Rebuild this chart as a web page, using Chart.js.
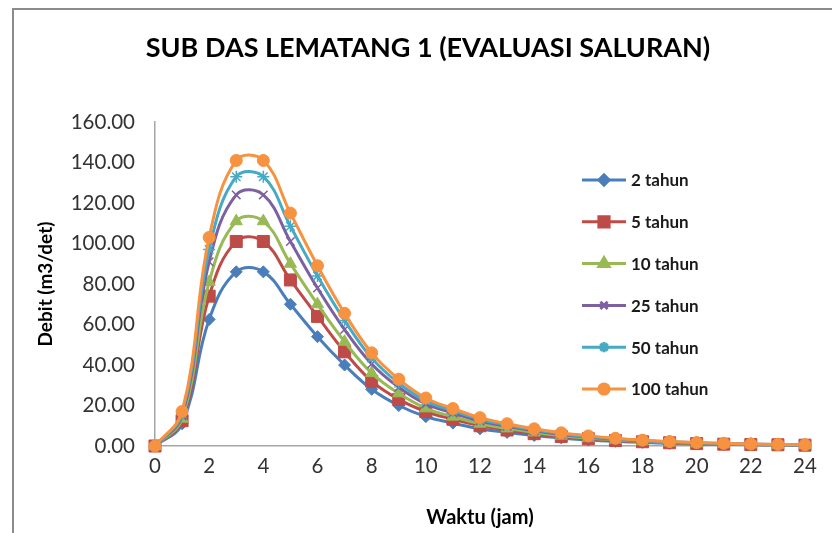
<!DOCTYPE html>
<html>
<head>
<meta charset="utf-8">
<script src="https://cdn.jsdelivr.net/npm/chart.js@4.4.1/dist/chart.umd.min.js"></script>
<style>
  body { margin: 0; background: #fff; }
  #wrap { width: 832px; height: 533px; }
</style>
</head>
<body>
<div id="wrap"><canvas id="line-chart"></canvas></div>
<script>
// jam (waktu)
const hours = [0, 1, 2, 3, 4, 5, 6, 7, 8, 9, 10, 11, 12, 13, 14, 15, 16, 17, 18, 19, 20, 21, 22, 23, 24];

// debit (m3/det) per kala ulang
const q2   = [0, 11, 62.5, 86, 86, 70, 54, 40, 28, 20, 14.5, 11.3, 8.5, 6.7, 5.2, 4, 3, 2.3, 1.8, 1.3, 1, 0.8, 0.6, 0.5, 0.4];
const q5   = [0, 12.5, 74, 101, 101, 82, 64, 46.5, 32, 23, 17, 13.2, 10, 7.9, 6.1, 4.7, 3.6, 2.7, 2.1, 1.6, 1.2, 0.9, 0.7, 0.6, 0.4];
const q10  = [0, 13.5, 81, 111, 111, 90, 70, 51.5, 36, 26, 18.6, 14.5, 11, 8.7, 6.7, 5.1, 3.9, 3, 2.3, 1.7, 1.3, 1, 0.8, 0.6, 0.5];
const q25  = [0, 15, 91, 124, 124, 101, 78, 57.5, 40.5, 29, 20.8, 16.3, 12.3, 9.7, 7.5, 5.7, 4.4, 3.3, 2.6, 1.9, 1.5, 1.1, 0.9, 0.7, 0.5];
const q50  = [0, 16, 97, 133, 133, 108.5, 84, 62, 43.4, 31, 22.3, 17.4, 13.2, 10.4, 8, 6.1, 4.7, 3.6, 2.7, 2.1, 1.6, 1.2, 0.9, 0.75, 0.55];
const q100 = [0, 17, 103, 141, 141, 115, 89, 65.5, 46, 33, 23.7, 18.5, 14, 11, 8.5, 6.5, 5, 3.8, 2.9, 2.2, 1.7, 1.3, 1, 0.8, 0.6];

const seriesLabels = ['2 tahun', '5 tahun', '10 tahun', '25 tahun', '50 tahun', '100 tahun'];
const chartTitle = 'SUB DAS LEMATANG 1 (EVALUASI SALURAN)';

const FONT = 'Lato, "Open Sans", sans-serif';

function pts(arr) {
  return arr.map((v, i) => ({ x: hours[i], y: v }));
}

function makeSet(label, data, color, style, radius, order) {
  return {
    label           : label,
    data            : pts(data),
    borderColor     : color,
    backgroundColor : color,
    pointBackgroundColor : color,
    pointBorderColor     : color,
    pointStyle      : style,
    pointRadius     : radius,
    pointBorderWidth: (style === 'crossRot' || style === 'star') ? 1.5 : 1,
    borderWidth     : 3,
    tension         : 0.4,
    clip            : false,
    order           : order,
  };
}

// frame round the chart + title (Excel puts it a bit right of the plot centre)
const framePlugin = {
  id: 'frame',
  beforeDraw(chart) {
    const ctx = chart.ctx;
    ctx.save();
    ctx.fillStyle = '#fff';
    ctx.fillRect(0, 0, chart.width, chart.height);
    ctx.strokeStyle = '#8c8c8c';
    ctx.lineWidth = 2;
    ctx.strokeRect(13, 9, 900, 700);
    ctx.fillStyle = '#000';
    ctx.font = 'bold 27px ' + FONT;
    ctx.textAlign = 'center';
    ctx.textBaseline = 'middle';
    ctx.fillText(chartTitle, 428, 48);
    ctx.restore();
  }
};

// legend drawn inside the plot, like the Excel original
const legendPlugin = {
  id: 'insideLegend',
  afterDatasetsDraw(chart) {
    const ctx = chart.ctx;
    ctx.save();
    chart.data.datasets.forEach((ds, i) => {
      const y = 180 + i * 41.8;
      ctx.strokeStyle = ds.borderColor;
      ctx.lineWidth = 3;
      ctx.beginPath();
      ctx.moveTo(582, y);
      ctx.lineTo(626, y);
      ctx.stroke();
      ctx.fillStyle = ds.pointBackgroundColor;
      ctx.strokeStyle = ds.pointBorderColor;
      Chart.helpers.drawPoint(ctx, {
        pointStyle  : ds.pointStyle,
        radius      : ds.pointRadius * 0.85,
        borderWidth : ds.pointBorderWidth,
        rotation    : 0,
      }, 604, y);
      ctx.fillStyle = '#1a1a1a';
      ctx.font = 'bold 17px ' + FONT;
      ctx.textBaseline = 'middle';
      ctx.textAlign = 'left';
      ctx.fillText(ds.label, 631, y + 1);
    });
    ctx.restore();
  }
};

const ctx = document.getElementById('line-chart').getContext('2d');

new Chart(ctx, {
  type: 'line',
  data: {
    datasets: [
      makeSet(seriesLabels[0], q2,   '#4a7ebb', 'rectRot',  6,   5),
      makeSet(seriesLabels[1], q5,   '#be4b48', 'rect',     8.5, 4),
      makeSet(seriesLabels[2], q10,  '#98b954', 'triangle', 7,   3),
      makeSet(seriesLabels[3], q25,  '#7d60a0', 'crossRot', 6,   2),
      makeSet(seriesLabels[4], q50,  '#46aac5', 'star',     6,   1),
      makeSet(seriesLabels[5], q100, '#f69240', 'circle',   6,   0),
    ],
  },
  plugins: [framePlugin, legendPlugin],
  options: {
    responsive: true,
    maintainAspectRatio: false,
    animation: false,
    layout: {
      padding: { left: 0, right: 27, top: 122, bottom: 0 },
    },
    plugins: {
      legend: { display: false },
      tooltip: { enabled: false },
      title: { display: false },
    },
    scales: {
      x: {
        type: 'linear',
        min: 0,
        max: 24,
        grid: { display: false, drawTicks: false },
        border: { color: '#a6a6a6', width: 1.5 },
        ticks: {
          stepSize: 2,
          padding: 8,
          color: '#333',
          font: { family: FONT, size: 20.5 },
        },
        title: {
          display: true,
          text: 'Waktu (jam)',
          color: '#000',
          font: { family: FONT, size: 20, weight: 'bold' },
          padding: { top: 0, bottom: 3 },
        },
        afterFit(scale) { scale.height = 87; },
      },
      y: {
        min: 0,
        max: 160,
        grid: { display: false, drawTicks: false },
        border: { color: '#a6a6a6', width: 1.5 },
        ticks: {
          stepSize: 20,
          padding: 20,
          color: '#333',
          font: { family: FONT, size: 20.5 },
          callback: (v) => v.toFixed(2),
        },
        title: {
          display: true,
          text: 'Debit (m3/det)',
          color: '#000',
          font: { family: FONT, size: 19, weight: 'bold' },
          padding: { top: 34, bottom: 0 },
        },
        afterFit(scale) { scale.width = 155; },
      },
    },
  },
});
</script>
</body>
</html>
